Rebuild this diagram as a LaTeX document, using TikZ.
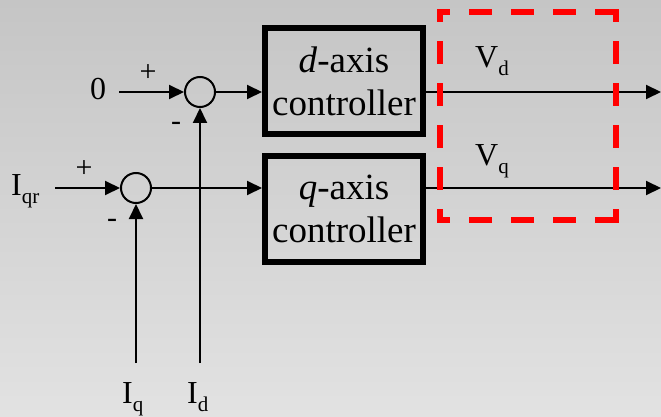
\documentclass[tikz,border=0pt]{standalone}
\usepackage{fontspec}
\setmainfont{Liberation Serif}
\usetikzlibrary{arrows.meta}
\definecolor{bgtop}{RGB}{197,197,197}
\definecolor{bgbot}{RGB}{226,226,226}
\tikzset{
	sig/.style={line width=2pt,-{Triangle[length=15pt,width=14pt]}},
	wire/.style={line width=2pt},
	sumnode/.style={circle,draw,line width=2pt,minimum size=30pt,inner sep=0pt},
	ctrl/.style={draw,line width=6pt,minimum width=158pt,minimum height=106pt,inner sep=0pt,align=center,font=\fontsize{37}{43}\selectfont},
	lbl/.style={inner sep=0pt,anchor=base west,font=\fontsize{32}{38}\selectfont},
	sgn/.style={inner sep=0pt,font=\fontsize{30}{36}\selectfont},
	window/.style={red,line width=6pt,line cap=rect,dash pattern=on 17pt off 25pt,dash phase=10pt}
}
\newcommand{\sigsub}[2]{#1\raisebox{-8pt}{\fontsize{21}{21}\selectfont #2}}
\begin{document}
\begin{tikzpicture}[x=1pt,y=-1pt]
			\useasboundingbox (0,0) rectangle (661,417);
			\shade[top color=bgtop,bottom color=bgbot] (0,0) rectangle (661,417);
			% summing junctions and controllers
			\node[sumnode] (sumd) at (200,92) {};
			\node[sumnode] (sumq) at (136,188) {};
			\node[ctrl] (ctrld) at (344,81) {\textit{d}-axis\\controller};
			\node[ctrl] (ctrlq) at (344,209) {\textit{q}-axis\\controller};
			% labels
			\node[lbl] (zero) at (90,100) {0};
			\node[lbl] (iqr) at (11,195) {\sigsub{I}{qr}};
			\node[lbl] (iq) at (122,403) {\sigsub{I}{q}};
			\node[lbl] (id) at (187,403) {\sigsub{I}{d}};
			\node[lbl] (vd) at (475,68) {\sigsub{V}{d}};
			\node[lbl] (vq) at (475,165) {\sigsub{V}{q}};
			\node[sgn] (pd) at (148,73) {+};
			\node[sgn] (md) at (176,126) {-};
			\node[sgn] (pq) at (84,169) {+};
			\node[sgn] (mq) at (112,223) {-};
			% free ends
			\coordinate (inzero) at (119,92);
			\coordinate (iniqr) at (55,188);
			\coordinate (iniq) at (136,363);
			\coordinate (inid) at (200,363);
			\coordinate (outd) at (661,92);
			\coordinate (outq) at (661,188);
			% signal lines
			\draw[sig] (inzero) -- (sumd.west);
			\draw[sig] (iniqr) -- (sumq.west);
			\draw[sig] (inid) -- (sumd.south);
			\draw[sig] (iniq) -- (sumq.south);
			\draw[sig] (sumd.east) -- (sumd.east -| ctrld.west);
			\draw[sig] (sumq.east) -- (sumq.east -| ctrlq.west);
			\draw[sig] (ctrld.east |- outd) -- (outd);
			\draw[sig] (ctrlq.east |- outq) -- (outq);
			% dashed window
			\coordinate (wa) at (440,12);
			\coordinate (wb) at (616,12);
			\coordinate (wc) at (616,220);
			\coordinate (wd) at (440,220);
			\draw[window] (wa) -- (wb);
			\draw[window] (wb) -- (wc);
			\draw[window] (wa) -- (wd);
			\draw[window] (wd) -- (wc);
		\end{tikzpicture}
\end{document}
